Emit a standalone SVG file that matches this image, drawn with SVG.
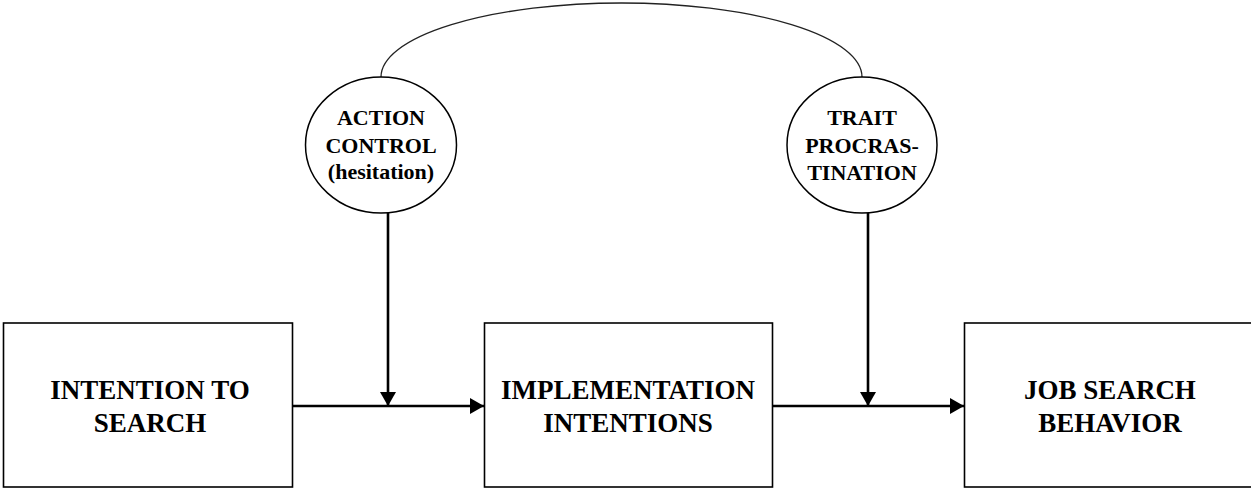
<svg xmlns="http://www.w3.org/2000/svg" width="1251" height="489" viewBox="0 0 1251 489">
<style>
.box{fill:#fff;stroke:#000;stroke-width:1.6}
.oval{fill:#fff;stroke:#000;stroke-width:1.5}
.bt{font-family:'Liberation Serif','Times New Roman',Tinos,'DejaVu Serif',serif;font-weight:bold;font-size:27px;text-anchor:middle;fill:#000}
.et{font-family:'Liberation Serif','Times New Roman',Tinos,'DejaVu Serif',serif;font-weight:bold;font-size:22px;text-anchor:middle;fill:#000}
.conn{fill:none;stroke:#000;stroke-width:2.6}
.arc{fill:none;stroke:#222;stroke-width:1.3}
</style>
<defs>
<marker id="ah" viewBox="0 0 14 16" refX="14" refY="8" markerWidth="14" markerHeight="16" markerUnits="userSpaceOnUse" orient="auto">
<path d="M0,0 L14,8 L0,16 Z" fill="#000"/>
</marker>
</defs>
<rect width="1251" height="489" fill="#fff"/>
<g id="connectors">
<path class="arc" d="M381,77 A240.5,74 0 0 1 862,77"/>
<line class="conn" x1="293" y1="406" x2="484" y2="406" marker-end="url(#ah)"/>
<line class="conn" x1="388" y1="213" x2="388" y2="406" marker-end="url(#ah)"/>
<line class="conn" x1="772" y1="406" x2="964" y2="406" marker-end="url(#ah)"/>
<line class="conn" x1="868" y1="213" x2="868" y2="406" marker-end="url(#ah)"/>
</g>
<g id="action-control">
<ellipse class="oval" cx="381" cy="145" rx="75.5" ry="68"/>
<text class="et" x="381" y="124.5" font-family="Liberation Serif, serif">ACTION</text>
<text class="et" x="381" y="152.5" font-family="Liberation Serif, serif">CONTROL</text>
<text class="et" x="381" y="179" font-family="Liberation Serif, serif">(hesitation)</text>
</g>
<g id="trait-procrastination">
<ellipse class="oval" cx="862" cy="145" rx="75" ry="68"/>
<text class="et" x="862" y="124.5" font-family="Liberation Serif, serif">TRAIT</text>
<text class="et" x="862" y="152.5" font-family="Liberation Serif, serif">PROCRAS-</text>
<text class="et" x="862" y="180" font-family="Liberation Serif, serif">TINATION</text>
</g>
<g id="intention-to-search">
<rect class="box" x="3.5" y="323" width="289" height="164"/>
<text class="bt" x="150" y="399" font-family="Liberation Serif, serif">INTENTION TO</text>
<text class="bt" x="150" y="431.5" font-family="Liberation Serif, serif">SEARCH</text>
</g>
<g id="implementation-intentions">
<rect class="box" x="484.5" y="323" width="288" height="164"/>
<text class="bt" x="628" y="399" font-family="Liberation Serif, serif">IMPLEMENTATION</text>
<text class="bt" x="628" y="431.5" font-family="Liberation Serif, serif">INTENTIONS</text>
</g>
<g id="job-search-behavior">
<rect class="box" x="964.5" y="323" width="292" height="164"/>
<text class="bt" x="1110" y="399" font-family="Liberation Serif, serif">JOB SEARCH</text>
<text class="bt" x="1110" y="431.5" font-family="Liberation Serif, serif">BEHAVIOR</text>
</g>
</svg>
